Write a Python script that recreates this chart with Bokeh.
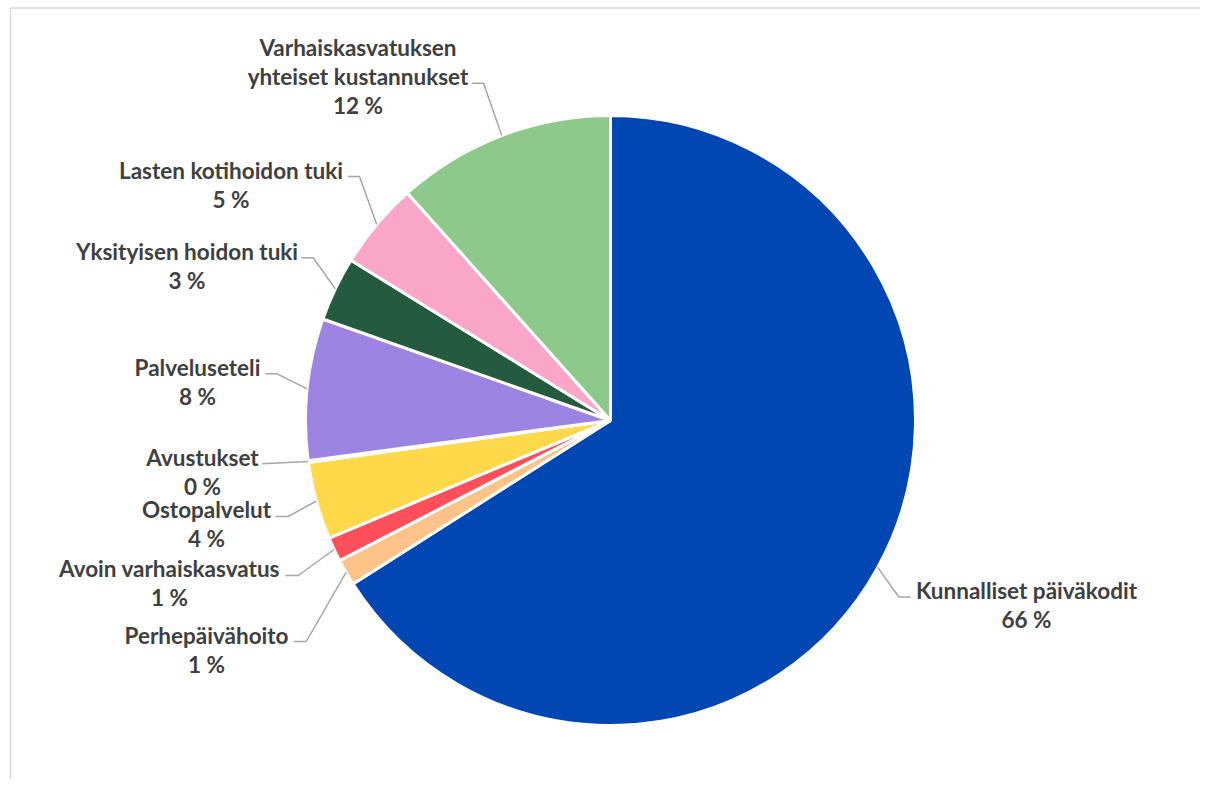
import math
from bokeh.plotting import figure
from bokeh.models import Range1d, ColumnDataSource
from bokeh.core.properties import value
from bokeh.embed import file_html
from bokeh.resources import INLINE

# ---- data (clockwise from 12 o'clock) ----
categories = [
    "Kunnalliset päiväkodit",
    "Perhepäivähoito",
    "Avoin varhaiskasvatus",
    "Ostopalvelut",
    "Avustukset",
    "Palveluseteli",
    "Yksityisen hoidon tuki",
    "Lasten kotihoidon tuki",
    "Varhaiskasvatuksen\nyhteiset kustannukset",
]
shares = [66.0, 1.4, 1.3, 4.1, 0.1, 7.5, 3.4, 4.6, 11.6]
colors = ["#0047B3", "#FFC38A", "#FF4F5A", "#FFD94A", "#5B9BD5",
          "#9E84E2", "#245A3D", "#F9A6C8", "#8CC98A"]

# ---- layout (pixel space of the page) ----
CX, CY, R = 610.0, 420.0, 305.0
label_cx = [1026, 206, 169, 206, 202, 197, 186.5, 230.5, 357.5]
label_y0 = [597, 641.5, 575, 516, 464, 373.5, 257.5, 176.5, 54]
lead_x0 = [910, 293.3, 285, 275, 261.7, 265, 300.7, 347.3, 471.7]
lead_x1 = [898.3, 305.7, 297.7, 287.7, 261.7, 276.7, 312.7, 359, 483]
lead_y = [596.5, 641, 575, 516, 463.3, 373.3, 257.3, 176, 82.7]
LINE_H = 29
TEXT_SHIFT = -7
FONT = "Lato"
FSIZE = "22.5px"
TXT = "#404040"

p = figure(width=1200, height=779, x_range=Range1d(0, 1200), y_range=Range1d(-779, 0),
           output_backend="svg", toolbar_location=None,
           x_axis_location=None, y_axis_location=None, min_border=0)
p.outline_line_color = None
p.background_fill_color = "white"
p.border_fill_color = "white"
p.grid.visible = False

# chart area border (top and left edges visible)
p.segment(x0=[10, 10], y0=[-7.5, -7.5], x1=[1200, 10], y1=[-7.5, -779],
          line_color="#D9D9D9", line_width=1.5)

total = sum(shares)
starts, ends, mids = [], [], []
cum = 0.0
for v in shares:
    a0 = cum / total * 2 * math.pi
    cum += v
    a1 = cum / total * 2 * math.pi
    # clockwise from top -> bokeh ccw angles from +x
    starts.append(math.pi / 2 - a1)
    ends.append(math.pi / 2 - a0)
    mids.append((a0 + a1) / 2)

src = ColumnDataSource(dict(start=starts, end=ends, color=colors))
p.wedge(x=CX, y=-CY, radius=R, start_angle="start", end_angle="end",
        fill_color="color", line_color="white", line_width=3, source=src)

# leader lines
xs, ys = [], []
for i, m in enumerate(mids):
    ex = CX + R * math.sin(m)
    ey = CY - R * math.cos(m)
    xs.append([lead_x0[i], lead_x1[i], ex])
    ys.append([-lead_y[i], -lead_y[i], -ey])
p.multi_line(xs=xs, ys=ys, line_color="#A6A6A6", line_width=1.5)

# labels
tx, ty, tt = [], [], []
for i, name in enumerate(categories):
    lines = name.split("\n") + [f"{int(shares[i] + 0.5)} %"]
    for k, ln in enumerate(lines):
        tx.append(label_cx[i])
        ty.append(-(label_y0[i] + k * LINE_H + TEXT_SHIFT))
        tt.append(ln)
p.text(x=tx, y=ty, text=tt, text_align="center", text_baseline="alphabetic",
       text_font=value(FONT), text_font_style="bold", text_font_size=FSIZE,
       text_color=TXT)

open("out.html", "w").write(file_html(p, INLINE))
